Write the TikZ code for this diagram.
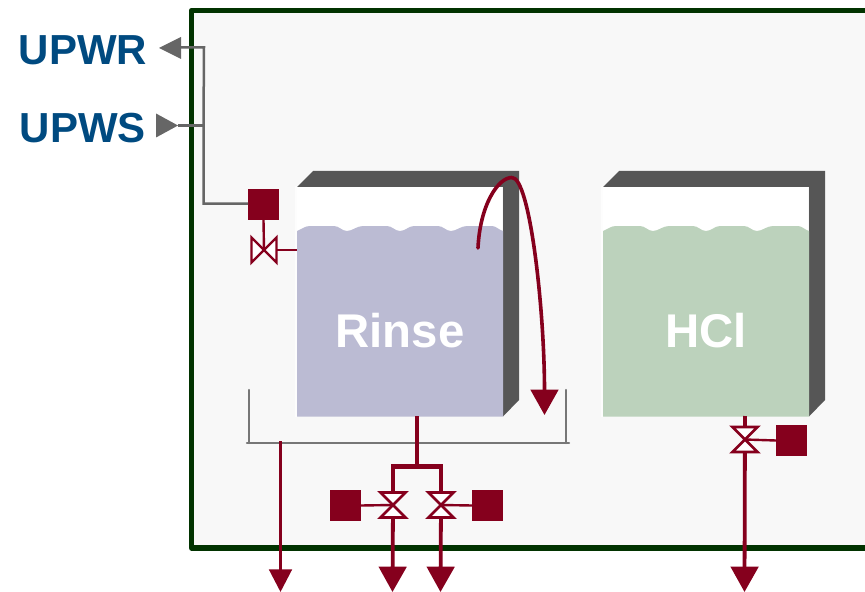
\documentclass[tikz,border=0pt]{standalone}
\usepackage{fontspec}
\setmainfont{Liberation Sans}
\usetikzlibrary{arrows.meta}
\definecolor{frameg}{HTML}{013300}
\definecolor{panel}{HTML}{F8F8F8}
\definecolor{wine}{HTML}{85001D}
\definecolor{pipeg}{HTML}{666666}
\definecolor{basing}{HTML}{777777}
\definecolor{tankd}{HTML}{565656}
\definecolor{rinsew}{HTML}{BBBBD3}
\definecolor{hclw}{HTML}{BCD2BC}
\definecolor{titleb}{HTML}{004A80}
\tikzset{
  px/.style={line width=#1*0.75pt},
  actuator/.style={fill=wine,draw=none,minimum size=23.25pt,inner sep=0pt,outer sep=0pt},
  winethin/.style={draw=wine,px=2.4},
  winepipe/.style={draw=wine,px=3.8},
  winemain/.style={draw=wine,px=4.4},
  graypipe/.style={draw=pipeg,px=2.5},
  basinline/.style={draw=basing,px=2.4,line cap=round},
  bighead/.style={-{Triangle[length=19pt,width=20.5pt,color=wine]}},
  smallhead/.style={-{Triangle[length=17pt,width=17pt,color=wine]}},
  tanklabel/.style={text=white,font=\fontsize{35.5pt}{36pt}\selectfont\bfseries,inner sep=0pt},
  portlabel/.style={text=titleb,font=\fontsize{31.5pt}{32pt}\selectfont\bfseries,inner sep=0pt},
  grayport/.style={fill=pipeg,draw=none},
}
% tank: #1 = x of front left, #2 = water colour
\newcommand{\tanksketch}[2]{%
  \fill[white!70!panel] (#1-2,186) rectangle (#1+1,417);
  \fill[tankd] (#1,187) -- (#1+16,171) -- (#1+222,171) -- (#1+222,400) -- (#1+206,416.5) -- (#1+206,187) -- cycle;
  \fill[white] (#1,187.5) rectangle (#1+205,235);
  \fill[#2] (#1,231) .. controls (#1+5,229) and (#1+8,226) .. (#1+13,226)
    -- (#1+37,226) .. controls (#1+42,226) and (#1+45,231) .. (#1+50,231)
    .. controls (#1+55,231) and (#1+60,226) .. (#1+66,226)
    -- (#1+90,226) .. controls (#1+95,226) and (#1+98,231) .. (#1+103,231)
    .. controls (#1+108,231) and (#1+112,226) .. (#1+117,226)
    -- (#1+141,226) .. controls (#1+146,226) and (#1+149,231) .. (#1+154,231)
    .. controls (#1+159,231) and (#1+164,226) .. (#1+170,226)
    -- (#1+195,226) .. controls (#1+199,226) and (#1+202,230) .. (#1+206,231)
    -- (#1+206,416.5) -- (#1,416.5) -- cycle;
}
% bow-tie valves
\newcommand{\valveh}[2]{%
  \filldraw[fill=white,winethin,line join=miter] (#1-12.5,#2-12.5) -- (#1+12.5,#2+12.5) -- (#1+12.5,#2-12.5) -- (#1-12.5,#2+12.5) -- cycle;
}
\newcommand{\valvev}[2]{%
  \filldraw[fill=white,draw=wine,px=2.8,line join=miter] (#1-12.5,#2-12.5) -- (#1+12.5,#2-12.5) -- (#1-12.5,#2+12.5) -- (#1+12.5,#2+12.5) -- cycle;
}
\begin{document}
\begin{tikzpicture}[x=0.75pt,y=-0.75pt]
\useasboundingbox (0,0) rectangle (865,592);
\clip (0,0) rectangle (865,592);
% frame
\filldraw[fill=panel,draw=frameg,px=5.4,line join=round] (880,10.5) -- (191.5,10.5) -- (191.5,548) -- (880,548);
% tanks
\tanksketch{297}{rinsew}
\tanksketch{603}{hclw}
\node[tanklabel] (rinse) at (400,331) {Rinse};
\node[tanklabel] (hcl) at (706,331) {HCl};
% port labels
\node[portlabel] (upwr) at (83,50) {UPWR};
\node[portlabel] (upws) at (83,128) {UPWS};
% named points
\coordinate (upwrbase) at (181,47.5);
\coordinate (upwrturn) at (204,47.5);
\coordinate (upwsbase) at (178,125.5);
\coordinate (upwsjoin) at (203.5,125.5);
\coordinate (feedturn) at (203.5,203.5);
\node[actuator] (actA) at (263.5,204.5) {};
\coordinate (vA) at (264,250);
\coordinate (inA) at (297,250);
% gray feed
\draw[graypipe] (upwrbase) -- (upwrturn) -- (upwsjoin) -- (feedturn) -- (actA.west |- feedturn);
\draw[graypipe] (upwsbase) -- (upwsjoin);
\fill[grayport] (159,48) -- (181,37) -- (181,59) -- cycle;
\fill[grayport] (178,125.5) -- (156,113.5) -- (156,137.5) -- cycle;
% inlet valve
\draw[winethin] (actA.south) -- (vA);
\draw[winethin] (vA) -- (inA);
\valveh{264}{250}
% overflow
\coordinate (ovstart) at (478,248);
\coordinate (ovpeak) at (512,177.5);
\coordinate (ovend) at (544.5,415);
\draw[draw=wine,px=3.6,line cap=round] (ovstart) .. controls (480,205) and (498,177.5) .. (ovpeak);
\draw[draw=wine,px=3.6,bighead] (ovpeak) .. controls (530,177.5) and (544.5,310) .. (ovend);
% basin
\coordinate (basinL) at (249,390);
\coordinate (basinBL) at (249,443);
\coordinate (basinBR) at (566,443);
\coordinate (basinR) at (566,390);
\draw[basinline] (basinL) -- (basinBL);
\draw[basinline] (basinR) -- (basinBR);
\draw[basinline] (247,443) -- (569,443);
% basin drain
\coordinate (bdtop) at (280.5,441);
\coordinate (bdend) at (279.5,592);
\draw[draw=wine,px=3,smallhead] (bdtop) -- (bdtop |- bdend);
% rinse drain
\coordinate (rdtop) at (417,416);
\coordinate (rdjoin) at (417,466.5);
\coordinate (v1) at (393,505);
\coordinate (v2) at (441,505);
\coordinate (o1) at (392.5,592);
\coordinate (o2) at (440.5,592);
\node[actuator] (act1) at (345.5,505.5) {};
\node[actuator] (act2) at (487.5,505.5) {};
\draw[winemain] (rdtop) -- (rdjoin);
\draw[winemain,line join=miter] (v1) -- (v1 |- rdjoin) -- (v2 |- rdjoin) -- (v2);
\draw[winepipe,bighead] (v1) -- (o1);
\draw[winepipe,bighead] (v2) -- (o2);
\draw[winethin] (act1.east) -- (v1);
\draw[winethin] (act2.west) -- (v2);
\valvev{393}{505}
\valvev{441}{505}
% HCl drain
\coordinate (htop) at (745,416);
\coordinate (v3) at (745,439.5);
\coordinate (o3) at (744.5,592);
\node[actuator] (act3) at (791.5,440.5) {};
\draw[winepipe,bighead] (htop) -- (o3);
\draw[winethin] (act3.west) -- (v3);
\valvev{745}{439.5}
\end{tikzpicture}
\end{document}
